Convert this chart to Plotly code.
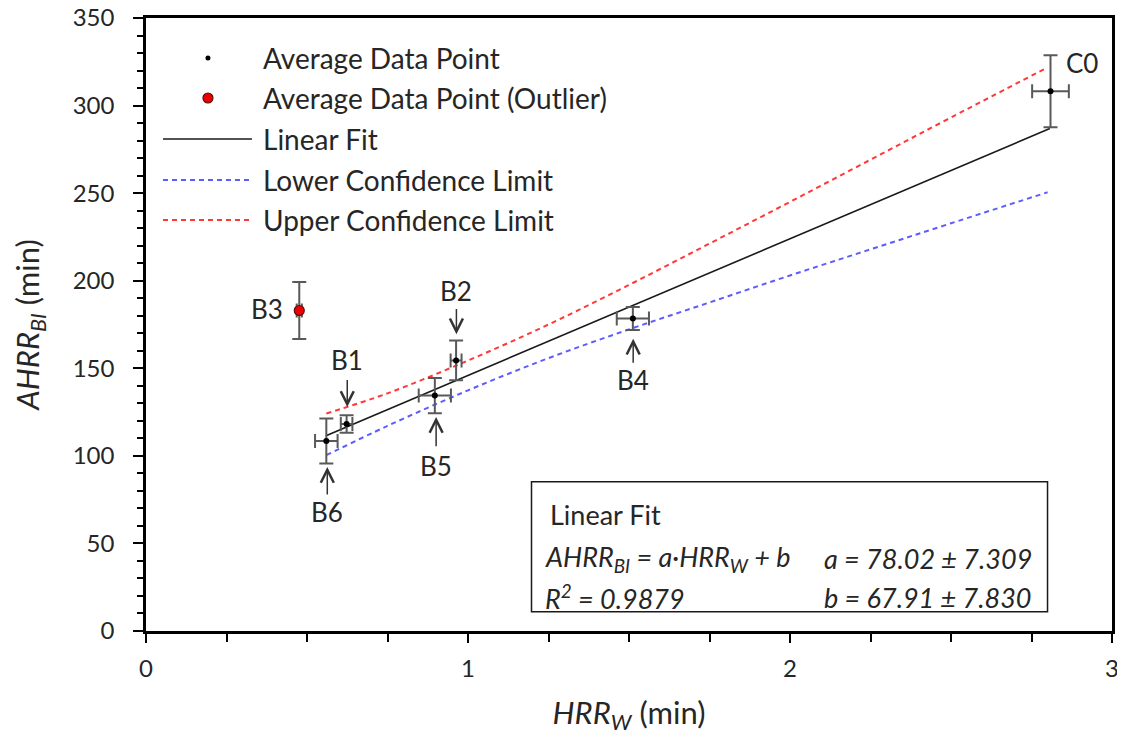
import plotly.graph_objects as go

# ---------------- data ----------------
pt_names = ["B6", "B1", "B5", "B2", "B4", "C0"]
pt_x = [0.560, 0.623, 0.897, 0.963, 1.512, 2.809]
pt_y = [108.5, 118.2, 134.4, 154.5, 178.4, 308.2]
pt_xerr = [0.035, 0.018, 0.050, 0.017, 0.050, 0.057]
pt_yerr = [12.8, 5.0, 10.1, 11.4, 6.6, 20.6]

out_names = ["B3"]
out_x = [0.476]
out_y = [183.0]
out_xerr = [0.008]
out_yerr = [16.3]

fit_x = [0.559, 2.807]
fit_y = [111.5, 286.9]

cl_x = [0.56, 0.75, 1.0, 1.25, 1.5, 1.75, 2.0, 2.25, 2.5, 2.80]
lower_y = [100.4, 117.1, 137.4, 155.8, 172.2, 187.6, 203.0, 217.9, 232.8, 250.5]
upper_y = [124.2, 135.7, 154.4, 175.0, 197.6, 221.2, 245.0, 269.1, 293.2, 321.8]

legend_names = ["Average Data Point", "Average Data Point (Outlier)", "Linear Fit",
                "Lower Confidence Limit", "Upper Confidence Limit"]

# label annotations: (text, x, label y, arrow head y or None, arrow start gap px)
point_labels = [
    ("B1", 0.625, 154.5, 127.9, 2),
    ("B2", 0.964, 193.9, 169.4, 0),
    ("B3", 0.376, 183.6, None, 0),
    ("B4", 1.513, 143.1, 166.9, 0),
    ("B5", 0.901, 94.4, 122.2, 2),
    ("B6", 0.563, 67.9, 93.7, 0),
    ("C0", 2.906, 324.2, None, 0),
]

# ---------------- styles ----------------
FONT = "Lato"
TXT = "#262626"
ERR = "#595959"
OFF = 8  # default page body margin of the html page
L, R, T, B = 146, 1112.5, 18, 631
W, H = 1125 - OFF, 748 - OFF


def px(xp):
    return (xp - L) / (R - L)


def py(yp):
    return (B - yp) / (B - T)


fig = go.Figure()

fig.add_trace(go.Scatter(x=fit_x, y=fit_y, mode="lines", name=legend_names[2],
                         line=dict(color="#1a1a1a", width=1.6), showlegend=False))
fig.add_trace(go.Scatter(x=cl_x, y=lower_y, mode="lines", name=legend_names[3],
                         line=dict(color="#5c5cff", width=2, dash="5px,4px", shape="spline"),
                         showlegend=False))
fig.add_trace(go.Scatter(x=cl_x, y=upper_y, mode="lines", name=legend_names[4],
                         line=dict(color="#ff3838", width=2, dash="5px,4px", shape="spline"),
                         showlegend=False))

fig.add_trace(go.Scatter(
    x=pt_x, y=pt_y, mode="markers", name=legend_names[0], text=pt_names,
    marker=dict(color="black", size=6),
    error_x=dict(type="data", array=pt_xerr, color=ERR, thickness=2, width=7),
    error_y=dict(type="data", array=pt_yerr, color=ERR, thickness=2, width=7),
    showlegend=False))
fig.add_trace(go.Scatter(
    x=out_x, y=out_y, mode="markers", name=legend_names[1], text=out_names,
    marker=dict(color="#ee0000", size=10, line=dict(color="#5a1010", width=1.2)),
    error_x=dict(type="data", array=out_xerr, color=ERR, thickness=2, width=7),
    error_y=dict(type="data", array=out_yerr, color=ERR, thickness=2, width=7),
    showlegend=False))

annotations = []
shapes = []

LBL = 26
# point labels (with arrows pointing at the error bars)
for txt, lx, ly, head, gap in point_labels:
    if head is None:
        annotations.append(dict(x=lx, y=ly, xref="x", yref="y", text=txt, showarrow=False,
                                font=dict(family=FONT, size=LBL, color=TXT),
                                xanchor="center", yanchor="middle"))
    else:
        annotations.append(dict(x=lx, y=head, xref="x", yref="y", ax=lx, ay=ly,
                                axref="x", ayref="y", text=txt, showarrow=True,
                                font=dict(family=FONT, size=LBL, color=TXT),
                                arrowhead=5, arrowsize=1.7, arrowwidth=1.5,
                                arrowcolor="#333333", standoff=0, startstandoff=gap))

# manual legend
LEG = 28
leg_y = [58, 98, 139, 180, 220]
shapes.append(dict(type="circle", xref="paper", yref="paper",
                   x0=px(208 - 2.5), x1=px(208 + 2.5), y0=py(leg_y[0] + 2.5), y1=py(leg_y[0] - 2.5),
                   fillcolor="black", line=dict(width=0)))
shapes.append(dict(type="circle", xref="paper", yref="paper",
                   x0=px(208 - 5), x1=px(208 + 5), y0=py(leg_y[1] + 5), y1=py(leg_y[1] - 5),
                   fillcolor="#ee0000", line=dict(color="#5a1010", width=1.2)))
shapes.append(dict(type="line", xref="paper", yref="paper",
                   x0=px(163), x1=px(252), y0=py(leg_y[2]), y1=py(leg_y[2]),
                   line=dict(color="#1a1a1a", width=1.6)))
shapes.append(dict(type="line", xref="paper", yref="paper",
                   x0=px(163), x1=px(252), y0=py(leg_y[3]), y1=py(leg_y[3]),
                   line=dict(color="#5c5cff", width=2, dash="5px,4px")))
shapes.append(dict(type="line", xref="paper", yref="paper",
                   x0=px(163), x1=px(252), y0=py(leg_y[4]), y1=py(leg_y[4]),
                   line=dict(color="#ff3838", width=2, dash="5px,4px")))
for name, yy in zip(legend_names, leg_y):
    annotations.append(dict(x=px(261), y=py(yy), xref="paper", yref="paper", text=name,
                            showarrow=False, xanchor="left", yanchor="middle",
                            font=dict(family=FONT, size=LEG, color=TXT)))

# fit info box
shapes.append(dict(type="rect", xref="paper", yref="paper",
                   x0=px(531.7), x1=px(1048), y0=py(611.7), y1=py(481.7),
                   line=dict(color="#1a1a1a", width=1.5), fillcolor="white", layer="above"))
box_font = dict(family=FONT, size=27, color=TXT)
box_texts = [
    ("Linear Fit", 548, 514),
    ("<i>AHRR</i><sub><i>BI</i></sub><i> = a·HRR</i><sub><i>W</i></sub><i> + b</i>", 543, 558),
    ("<i>a = 78.02 ± 7.309</i>", 822, 558),
    ("<i>R</i><sup><i>2</i></sup><i> = 0.9879</i>", 543, 597),
    ("<i>b = 67.91 ± 7.830</i>", 822, 597),
]
for t, xx, yy in box_texts:
    annotations.append(dict(x=px(xx), y=py(yy), xref="paper", yref="paper", text=t,
                            showarrow=False, xanchor="left", yanchor="middle", font=box_font))

fig.update_layout(
    width=W, height=H,
    margin=dict(l=L - OFF, r=1125 - R, t=T - OFF, b=748 - B, autoexpand=False),
    paper_bgcolor="white", plot_bgcolor="white",
    font=dict(family=FONT, size=23, color=TXT),
    showlegend=False,
    annotations=annotations,
    shapes=shapes,
)
fig.update_xaxes(
    range=[0, 3], dtick=1, tick0=0, showgrid=False, zeroline=False, automargin=False,
    showline=True, linecolor="black", linewidth=2.5, mirror=True,
    ticks="outside", ticklen=9, tickwidth=2, tickcolor="black",
    ticklabelstandoff=5, ticklabeloverflow="allow",
    minor=dict(dtick=0.25, ticks="outside", ticklen=8, tickwidth=2, tickcolor="black", showgrid=False),
    tickfont=dict(family=FONT, size=24, color=TXT),
    title=dict(text="<i>HRR</i><sub><i>W</i></sub> (min)", font=dict(family=FONT, size=31, color=TXT),
               standoff=22),
)
fig.update_yaxes(
    range=[0, 350], dtick=50, tick0=0, showgrid=False, zeroline=False, automargin=False,
    showline=True, linecolor="black", linewidth=2.5, mirror=True,
    ticks="outside", ticklen=10, tickwidth=2, tickcolor="black",
    ticklabelstandoff=14, ticklabeloverflow="allow",
    minor=dict(dtick=10, ticks="outside", ticklen=6, tickwidth=2, tickcolor="black", showgrid=False),
    tickfont=dict(family=FONT, size=24, color=TXT),
    title=dict(text="<i>AHRR</i><sub><i>BI</i></sub> (min)", font=dict(family=FONT, size=31, color=TXT),
               standoff=24),
)

fig.write_html("out.html")
